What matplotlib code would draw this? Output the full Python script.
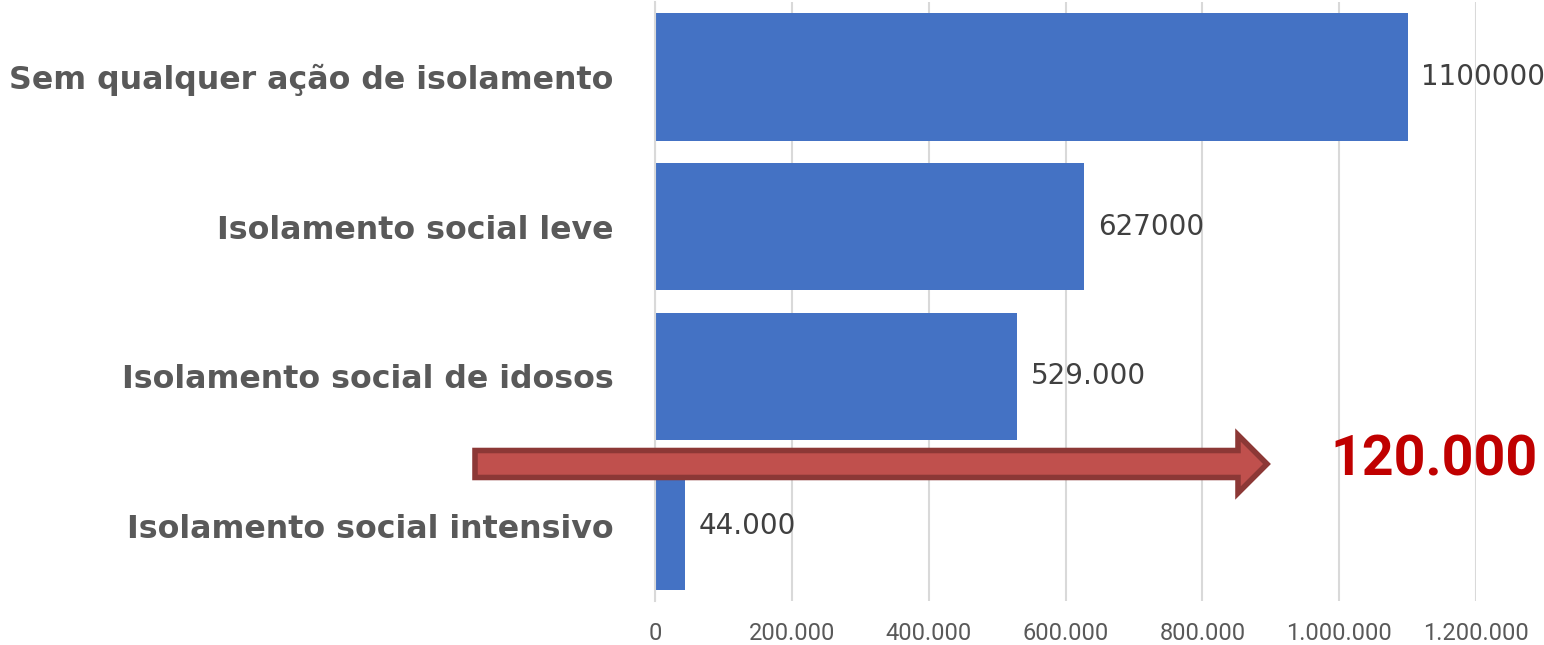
import matplotlib
matplotlib.use("Agg")
import matplotlib.pyplot as plt
from matplotlib.patches import FancyArrow

# data
categories = ["Sem qualquer ação de isolamento", "Isolamento social leve",
              "Isolamento social de idosos", "Isolamento social intensivo"]
values = [1100000, 627000, 529000, 44000]
value_labels = ["1100000", "627000", "529.000", "44.000"]
xticks = [0, 200000, 400000, 600000, 800000, 1000000, 1200000]
xtick_labels = ["0", "200.000", "400.000", "600.000", "800.000", "1.000.000", "1.200.000"]
highlight = "120.000"

fig = plt.figure(figsize=(15.44, 6.45), dpi=100)
ax = fig.add_axes([655/1544, 1 - 601/645, (1476 - 655)/1544, (601 - 2)/645])

ypos = list(range(len(categories)))
ax.barh(ypos, values, height=0.85, color="#4472C4", zorder=2)
ax.set_ylim(len(categories) - 0.5, -0.5)
ax.set_xlim(0, 1200000)

ax.set_yticks(ypos)
ax.set_yticklabels(categories, fontsize=22.8, fontweight="bold", color="#595959", family=["DejaVu Sans"])
ax.tick_params(axis="y", length=0, pad=30)
ax.set_xticks(xticks)
ax.set_xticklabels(xtick_labels, fontsize=17, color="#595959", family=["Roboto", "DejaVu Sans"])
ax.tick_params(axis="x", length=0, pad=15)
ax.grid(axis="x", color="#D9D9D9", linewidth=1.5, zorder=0)
for s in ["top", "right", "bottom"]:
    ax.spines[s].set_visible(False)
ax.spines["left"].set_color("#D9D9D9")
ax.spines["left"].set_linewidth(1.5)

for y, v, lab in zip(ypos, values, value_labels):
    ax.text(v + 20000, y, lab, va="center", ha="left", fontsize=20, color="#404040", clip_on=False)

# arrow annotation with the highlighted number
arrow = FancyArrow(475/1544, 1 - 464/645, (1267 - 475)/1544, 0, width=27/645,
                   head_width=58/645, head_length=29/1544, length_includes_head=True,
                   transform=fig.transFigure, facecolor="#C0504D", edgecolor="#8C3836",
                   linewidth=4, zorder=5)
fig.add_artist(arrow)
fig.text(1330/1544, 1 - 460/645, highlight, fontsize=40, fontweight="bold", color="#C00000",
         va="center", ha="left", family=["Roboto", "DejaVu Sans"])

fig.savefig("out.png", dpi=100)
